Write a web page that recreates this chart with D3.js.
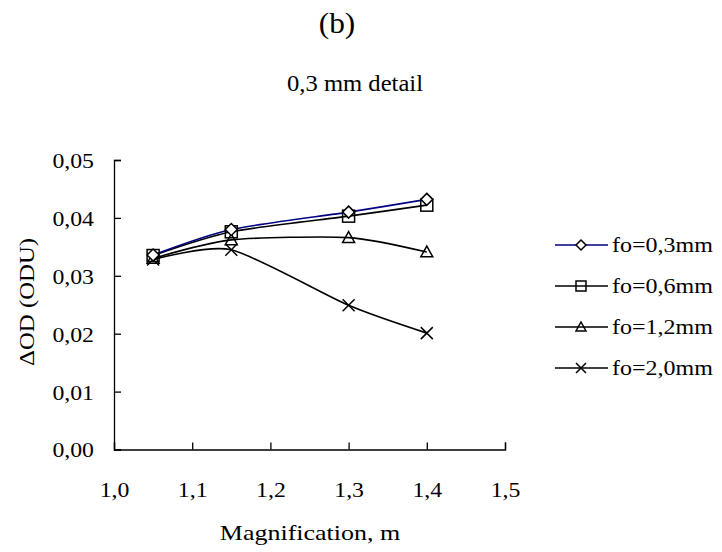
<!DOCTYPE html>
<html>
<head>
<meta charset="utf-8">
<script src="https://cdn.jsdelivr.net/npm/d3@7/dist/d3.min.js"></script>
<style>
  html, body { margin: 0; padding: 0; background: #fff; }
  svg { display: block; }
  text { font-family: "Liberation Serif", "Times New Roman", serif; fill: #000; }
</style>
</head>
<body>
<svg id="chart" width="722" height="552"></svg>
<script>
// Magnification values where measurements were taken
const magnification = [1.05, 1.15, 1.3, 1.4];

// ΔOD per focal spot size
const fo03 = [0.0336, 0.0380, 0.0410, 0.0432];
const fo06 = [0.0335, 0.0376, 0.0403, 0.0422];
const fo12 = [0.0330, 0.0362, 0.0366, 0.0341];
const fo20 = [0.0328, 0.0345, 0.0249, 0.0201];

const seriesNames = ["fo=0,3mm", "fo=0,6mm", "fo=1,2mm", "fo=2,0mm"];
const seriesValues = [fo03, fo06, fo12, fo20];
const seriesColors = ["#000080", "#000", "#000", "#000"];
const seriesMarkers = ["diamond", "square", "triangle", "cross"];

const xTicks = [1.0, 1.1, 1.2, 1.3, 1.4, 1.5];
const yTicks = [0, 0.01, 0.02, 0.03, 0.04, 0.05];

const svg = d3.select("#chart");
const fmtComma = (d, p) => d3.format("." + p + "f")(d).replace(".", ",");

// widen serif text slightly along its baseline
function widen(sel, factor) {
  sel.each(function () {
    const w = this.getComputedTextLength();
    d3.select(this).attr("textLength", w * factor).attr("lengthAdjust", "spacingAndGlyphs");
  });
}

const x = d3.scaleLinear().domain([1.0, 1.5]).range([114, 505]);
const y = d3.scaleLinear().domain([0, 0.05]).range([449.5, 160]);

// Titles
svg.append("text").attr("x", 337).attr("y", 33).attr("text-anchor", "middle")
  .attr("font-size", 29).text("(b)").call(widen, 1.08);
svg.append("text").attr("x", 355).attr("y", 91).attr("text-anchor", "middle")
  .attr("font-size", 23).text("0,3 mm detail").call(widen, 1.07);

// Axes
const xAxis = d3.axisBottom(x).tickValues(xTicks).tickSize(-7).tickPadding(0)
  .tickFormat(d => fmtComma(d, 1));
const gx = svg.append("g").attr("transform", `translate(0,${y(0)})`).call(xAxis);
const yAxis = d3.axisLeft(y).tickValues(yTicks).tickSize(-7).tickPadding(20)
  .tickFormat(d => fmtComma(d, 2));
const gy = svg.append("g").attr("transform", `translate(${x(1.0)},0)`).call(yAxis);
[gx, gy].forEach(g => {
  g.select(".domain").attr("stroke", "#000").attr("stroke-width", 1.3);
  g.selectAll(".tick line").attr("stroke", "#000").attr("stroke-width", 1.3);
  g.selectAll(".tick text").attr("font-size", 22)
    .attr("font-family", "Liberation Serif, serif").attr("fill", "#000");
});
gx.selectAll(".tick text").attr("y", 47).attr("dy", 0).call(widen, 1.08);
gy.selectAll(".tick text").attr("dy", "0.34em").call(widen, 1.08);

// Axis titles
svg.append("text").attr("x", 310).attr("y", 540).attr("text-anchor", "middle")
  .attr("font-size", 22).text("Magnification, m").call(widen, 1.18);
svg.append("text").attr("transform", "translate(34,302) rotate(-90)")
  .attr("text-anchor", "middle").attr("font-size", 21).text("ΔOD (ODU)").call(widen, 1.18);

// Marker shapes
function drawMarker(g, type, cx, cy, s) {
  const h = s / 2;
  if (type === "diamond") {
    g.append("path").attr("d", `M${cx},${cy - h}L${cx + h},${cy}L${cx},${cy + h}L${cx - h},${cy}Z`)
      .attr("fill", "#fff").attr("stroke", "#000").attr("stroke-width", 1.5);
  } else if (type === "square") {
    g.append("rect").attr("x", cx - h).attr("y", cy - h).attr("width", s).attr("height", s)
      .attr("fill", "none").attr("stroke", "#000").attr("stroke-width", 1.5);
  } else if (type === "triangle") {
    g.append("path").attr("d", `M${cx},${cy - h}L${cx + h},${cy + h * 0.8}L${cx - h},${cy + h * 0.8}Z`)
      .attr("fill", "none").attr("stroke", "#000").attr("stroke-width", 1.5);
  } else {
    g.append("path").attr("d", `M${cx - h},${cy - h}L${cx + h},${cy + h}M${cx + h},${cy - h}L${cx - h},${cy + h}`)
      .attr("fill", "none").attr("stroke", "#000").attr("stroke-width", 1.5);
  }
}

const line = d3.line().x(d => x(d[0])).y(d => y(d[1])).curve(d3.curveCardinal.tension(0.3));

// Draw series in reverse order so the first series ends on top
const plot = svg.append("g");
for (let i = seriesValues.length - 1; i >= 0; i--) {
  const pts = magnification.map((m, j) => [m, seriesValues[i][j]]);
  plot.append("path").datum(pts).attr("d", line).attr("fill", "none")
    .attr("stroke", seriesColors[i]).attr("stroke-width", 1.6);
}
for (let i = seriesValues.length - 1; i >= 0; i--) {
  magnification.forEach((m, j) => drawMarker(plot, seriesMarkers[i], x(m), y(seriesValues[i][j]), 12));
}

// Legend
const legend = svg.append("g");
seriesNames.forEach((name, i) => {
  const ly = 245 + i * 41;
  legend.append("line").attr("x1", 555).attr("x2", 608).attr("y1", ly).attr("y2", ly)
    .attr("stroke", seriesColors[i]).attr("stroke-width", 1.6);
  drawMarker(legend, seriesMarkers[i], 581, ly, 10);
  legend.append("text").attr("x", 612).attr("y", ly).attr("dy", "0.34em")
    .attr("font-size", 20).text(name).call(widen, 1.2);
});
</script>
</body>
</html>
